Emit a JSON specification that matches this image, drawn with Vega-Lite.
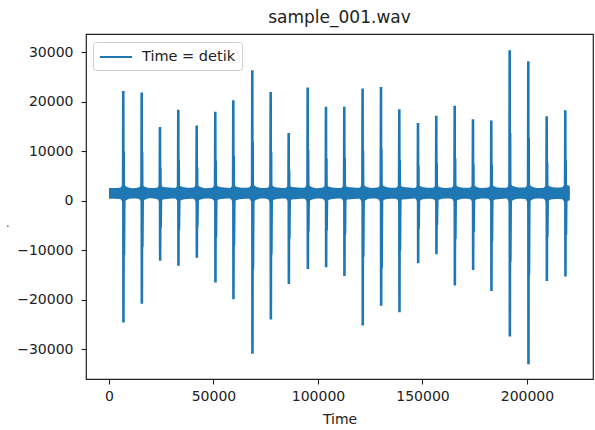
{
"$schema": "https://vega.github.io/schema/vega-lite/v6.json",
"width": 507, "height": 345,
"autosize": "none",
"padding": {"left": 86, "top": 34, "right": 2, "bottom": 51},
"background": "white",
"title": {"text": "sample_001.wav", "font": "DejaVu Sans", "fontSize": 17, "fontWeight": "normal", "color": "#222", "offset": 7},
"datasets": {
"band": [
{"t":0,"lo":400,"hi":2600},
{"t":5300,"lo":350,"hi":2650},{"t":6840,"lo":-300,"hi":3300},{"t":8300,"lo":150,"hi":2900},{"t":11200,"lo":450,"hi":2550},
{"t":14100,"lo":400,"hi":2700},{"t":15650,"lo":-200,"hi":3200},{"t":17100,"lo":200,"hi":2850},{"t":20000,"lo":500,"hi":2600},
{"t":22900,"lo":350,"hi":2650},{"t":24400,"lo":-250,"hi":3250},{"t":25900,"lo":250,"hi":2800},{"t":28800,"lo":400,"hi":2700},
{"t":31600,"lo":450,"hi":2600},{"t":33160,"lo":-150,"hi":3100},{"t":34700,"lo":150,"hi":2900},{"t":37500,"lo":350,"hi":2650},
{"t":40400,"lo":400,"hi":2700},{"t":41960,"lo":-300,"hi":3200},{"t":43500,"lo":200,"hi":2850},{"t":46400,"lo":450,"hi":2550},
{"t":49300,"lo":350,"hi":2650},{"t":50860,"lo":-200,"hi":3300},{"t":52400,"lo":250,"hi":2900},{"t":55200,"lo":400,"hi":2700},
{"t":57900,"lo":450,"hi":2600},{"t":59480,"lo":-250,"hi":3150},{"t":61000,"lo":150,"hi":2850},{"t":64000,"lo":350,"hi":2650},
{"t":67000,"lo":400,"hi":2700},{"t":68570,"lo":-400,"hi":3400},{"t":70100,"lo":100,"hi":2950},{"t":73000,"lo":450,"hi":2600},
{"t":75800,"lo":350,"hi":2650},{"t":77370,"lo":-300,"hi":3250},{"t":78900,"lo":200,"hi":2850},{"t":81700,"lo":400,"hi":2650},
{"t":84400,"lo":450,"hi":2600},{"t":85990,"lo":-150,"hi":3100},{"t":87500,"lo":250,"hi":2800},{"t":90500,"lo":350,"hi":2700},
{"t":93500,"lo":400,"hi":2650},{"t":95080,"lo":-250,"hi":3300},{"t":96600,"lo":150,"hi":2900},{"t":99400,"lo":450,"hi":2550},
{"t":102300,"lo":350,"hi":2700},{"t":103830,"lo":-200,"hi":3200},{"t":105300,"lo":200,"hi":2850},{"t":108200,"lo":400,"hi":2650},
{"t":111000,"lo":450,"hi":2600},{"t":112590,"lo":-250,"hi":3200},{"t":114100,"lo":250,"hi":2800},{"t":117000,"lo":350,"hi":2700},
{"t":119800,"lo":400,"hi":2650},{"t":121350,"lo":-350,"hi":3300},{"t":122900,"lo":150,"hi":2900},{"t":125700,"lo":450,"hi":2600},
{"t":128600,"lo":350,"hi":2700},{"t":130150,"lo":-300,"hi":3300},{"t":131700,"lo":200,"hi":2950},{"t":134500,"lo":400,"hi":2650},
{"t":137300,"lo":400,"hi":2650},{"t":138910,"lo":-250,"hi":3250},{"t":140400,"lo":250,"hi":2850},{"t":143400,"lo":350,"hi":2700},
{"t":146300,"lo":450,"hi":2600},{"t":147860,"lo":-200,"hi":3100},{"t":149400,"lo":200,"hi":2900},{"t":152200,"lo":400,"hi":2650},
{"t":155000,"lo":350,"hi":2650},{"t":156610,"lo":-150,"hi":3150},{"t":158100,"lo":250,"hi":2800},{"t":161000,"lo":450,"hi":2600},
{"t":163900,"lo":400,"hi":2700},{"t":165420,"lo":-250,"hi":3250},{"t":166900,"lo":150,"hi":2900},{"t":169800,"lo":400,"hi":2650},
{"t":172600,"lo":350,"hi":2650},{"t":174170,"lo":-200,"hi":3150},{"t":175700,"lo":250,"hi":2850},{"t":178500,"lo":450,"hi":2600},
{"t":181400,"lo":400,"hi":2700},{"t":182930,"lo":-250,"hi":3200},{"t":184400,"lo":200,"hi":2900},{"t":187300,"lo":350,"hi":2650},
{"t":190200,"lo":450,"hi":2650},{"t":191740,"lo":-400,"hi":3400},{"t":193300,"lo":100,"hi":3000},{"t":196200,"lo":400,"hi":2700},
{"t":199100,"lo":350,"hi":2700},{"t":200640,"lo":-400,"hi":3400},{"t":202200,"lo":150,"hi":2950},{"t":205000,"lo":450,"hi":2600},
{"t":207900,"lo":400,"hi":2650},{"t":209440,"lo":-250,"hi":3250},{"t":211000,"lo":200,"hi":2900},{"t":213800,"lo":350,"hi":2700},
{"t":216800,"lo":300,"hi":2750},{"t":218340,"lo":-350,"hi":3350},{"t":219800,"lo":0,"hi":3100},{"t":220500,"lo":100,"hi":3000}
],
"wave": [
{"t":0,"v":1500},
{"t":6740,"v":1500},{"t":6840,"v":22200},{"t":6920,"v":-24600},{"t":7040,"v":10000},{"t":7160,"v":-11000},{"t":7340,"v":1500},
{"t":15550,"v":1500},{"t":15650,"v":21900},{"t":15730,"v":-20800},{"t":15850,"v":9900},{"t":15970,"v":-9400},{"t":16150,"v":1500},
{"t":24300,"v":1500},{"t":24400,"v":14900},{"t":24480,"v":-12100},{"t":24600,"v":6700},{"t":24720,"v":-5400},{"t":24900,"v":1500},
{"t":33060,"v":1500},{"t":33160,"v":18400},{"t":33240,"v":-13100},{"t":33360,"v":8300},{"t":33480,"v":-5900},{"t":33660,"v":1500},
{"t":41860,"v":1500},{"t":41960,"v":15200},{"t":42040,"v":-11500},{"t":42160,"v":6800},{"t":42280,"v":-5200},{"t":42460,"v":1500},
{"t":50760,"v":1500},{"t":50860,"v":18000},{"t":50940,"v":-16500},{"t":51060,"v":8100},{"t":51180,"v":-7400},{"t":51360,"v":1500},
{"t":59380,"v":1500},{"t":59480,"v":20300},{"t":59560,"v":-19900},{"t":59680,"v":9100},{"t":59800,"v":-9000},{"t":59980,"v":1500},
{"t":68470,"v":1500},{"t":68570,"v":26400},{"t":68650,"v":-30900},{"t":68770,"v":11900},{"t":68890,"v":-13900},{"t":69070,"v":1500},
{"t":77270,"v":1500},{"t":77370,"v":22000},{"t":77450,"v":-24000},{"t":77570,"v":9900},{"t":77690,"v":-10800},{"t":77870,"v":1500},
{"t":85890,"v":1500},{"t":85990,"v":13700},{"t":86070,"v":-16800},{"t":86190,"v":6200},{"t":86310,"v":-7600},{"t":86490,"v":1500},
{"t":94980,"v":1500},{"t":95080,"v":22900},{"t":95160,"v":-13800},{"t":95280,"v":10300},{"t":95400,"v":-6200},{"t":95580,"v":1500},
{"t":103730,"v":1500},{"t":103830,"v":19000},{"t":103910,"v":-13400},{"t":104030,"v":8600},{"t":104150,"v":-6000},{"t":104330,"v":1500},
{"t":112490,"v":1500},{"t":112590,"v":19000},{"t":112670,"v":-15200},{"t":112790,"v":8600},{"t":112910,"v":-6800},{"t":113090,"v":1500},
{"t":121250,"v":1500},{"t":121350,"v":22700},{"t":121430,"v":-25200},{"t":121550,"v":10200},{"t":121670,"v":-11300},{"t":121850,"v":1500},
{"t":130050,"v":1500},{"t":130150,"v":23000},{"t":130230,"v":-21200},{"t":130350,"v":10400},{"t":130470,"v":-13500},{"t":130650,"v":1500},
{"t":138810,"v":1500},{"t":138910,"v":18500},{"t":138990,"v":-22500},{"t":139110,"v":8300},{"t":139230,"v":-10100},{"t":139410,"v":1500},
{"t":147760,"v":1500},{"t":147860,"v":15700},{"t":147940,"v":-12600},{"t":148060,"v":7100},{"t":148180,"v":-5700},{"t":148360,"v":1500},
{"t":156510,"v":1500},{"t":156610,"v":17200},{"t":156690,"v":-10800},{"t":156810,"v":7700},{"t":156930,"v":-4900},{"t":157110,"v":1500},
{"t":165320,"v":1500},{"t":165420,"v":19200},{"t":165500,"v":-17100},{"t":165620,"v":8600},{"t":165740,"v":-7700},{"t":165920,"v":1500},
{"t":174070,"v":1500},{"t":174170,"v":16500},{"t":174250,"v":-14000},{"t":174370,"v":7400},{"t":174490,"v":-6300},{"t":174670,"v":1500},
{"t":182830,"v":1500},{"t":182930,"v":16200},{"t":183010,"v":-18200},{"t":183130,"v":7300},{"t":183250,"v":-8200},{"t":183430,"v":1500},
{"t":191640,"v":1500},{"t":191740,"v":30400},{"t":191820,"v":-27400},{"t":191940,"v":13700},{"t":192060,"v":-12300},{"t":192240,"v":1500},
{"t":200540,"v":1500},{"t":200640,"v":28200},{"t":200720,"v":-33000},{"t":200840,"v":12700},{"t":200960,"v":-14900},{"t":201140,"v":1500},
{"t":209340,"v":1500},{"t":209440,"v":17100},{"t":209520,"v":-16200},{"t":209640,"v":7700},{"t":209760,"v":-7300},{"t":209940,"v":1500},
{"t":218240,"v":1500},{"t":218340,"v":18300},{"t":218420,"v":-15300},{"t":218540,"v":8200},{"t":218660,"v":-6900},{"t":218840,"v":1500},
{"t":220500,"v":1500}
]
},
"layer": [
{
"data": {"name": "band"},
"mark": {"type": "area", "color": "#1f77b4", "opacity": 1, "interpolate": "monotone"},
"encoding": {
"x": {"field": "t", "type": "quantitative", "scale": {"domain": [-11000, 231600], "nice": false, "zero": false}, "axis": {"title": "Time", "values": [0, 50000, 100000, 150000, 200000], "format": "d", "labelPadding": 5, "titlePadding": 9}},
"y": {"field": "lo", "type": "quantitative", "scale": {"domain": [-36000, 33700], "nice": false, "zero": false}, "axis": {"title": ".", "values": [-30000, -20000, -10000, 0, 10000, 20000, 30000], "format": "d", "labelPadding": 8, "titleAngle": 0, "titleX": -81, "titleY": 188, "titleAlign": "left", "titleBaseline": "middle", "titleColor": "#777"}},
"y2": {"field": "hi"}
}
},
{
"data": {"name": "wave"},
"mark": {"type": "line", "strokeWidth": 2.6, "strokeJoin": "miter"},
"encoding": {
"x": {"field": "t", "type": "quantitative", "scale": {"domain": [-11000, 231600], "nice": false, "zero": false}, "axis": {"title": "Time", "values": [0, 50000, 100000, 150000, 200000], "format": "d", "labelPadding": 5, "titlePadding": 9}},
"y": {"field": "v", "type": "quantitative", "scale": {"domain": [-36000, 33700], "nice": false, "zero": false}, "axis": {"title": ".", "values": [-30000, -20000, -10000, 0, 10000, 20000, 30000], "format": "d", "labelPadding": 8, "titleAngle": 0, "titleX": -81, "titleY": 188, "titleAlign": "left", "titleBaseline": "middle", "titleColor": "#777"}},
"color": {"datum": "Time = detik", "scale": {"range": ["#1f77b4"]}, "legend": {"orient": "none", "legendX": 7, "legendY": 8, "title": null, "symbolType": "M-1,0L3,0", "symbolSize": 256, "symbolStrokeWidth": 2, "symbolStrokeColor": "#1f77b4", "symbolFillColor": "transparent", "labelFontSize": 14.5, "labelFont": "DejaVu Sans", "labelColor": "#222", "padding": 6, "strokeColor": "#d0d0d0", "fillColor": "rgba(255,255,255,0.8)", "cornerRadius": 3, "labelOffset": 25}}
}
}
],
"config": {
"font": "DejaVu Sans",
"view": {"stroke": "#222", "strokeWidth": 1.2},
"axis": {"grid": false, "domain": false, "tickColor": "#222", "tickSize": 5, "tickWidth": 1.1, "labelFont": "DejaVu Sans", "labelFontSize": 14, "labelColor": "#222", "titleFont": "DejaVu Sans", "titleFontSize": 14, "titleFontWeight": "normal", "titleColor": "#222"}
}
}
